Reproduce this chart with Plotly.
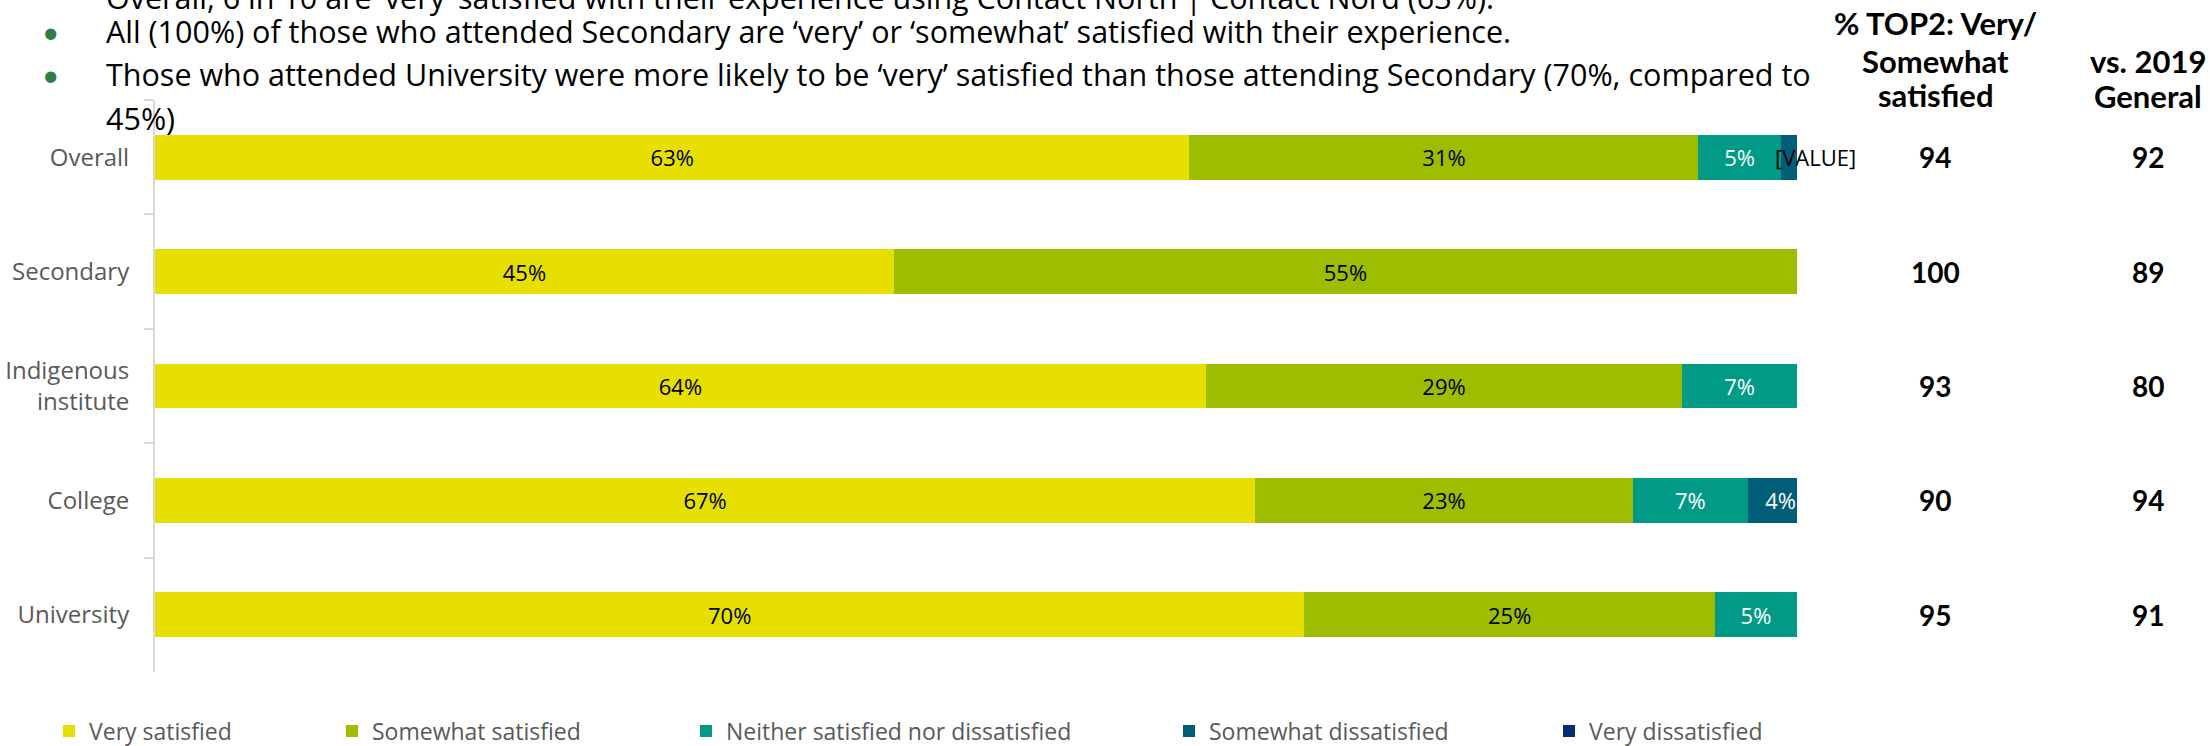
import plotly.graph_objects as go

# --- data -------------------------------------------------------------
categories = ["Overall", "Secondary", "Indigenous<br>institute", "College", "University"]
very_satisfied = [63, 45, 64, 67, 70]
somewhat_satisfied = [31, 55, 29, 23, 25]
neither = [5, 0, 7, 7, 5]
somewhat_dissatisfied = [1, 0, 0, 4, 0]
very_dissatisfied = [0, 0, 0, 0, 0]
top2_pct = [94, 100, 93, 90, 95]
vs_2019_general = [92, 89, 80, 94, 91]
series_names = ["Very satisfied", "Somewhat satisfied",
                "Neither satisfied nor dissatisfied",
                "Somewhat dissatisfied", "Very dissatisfied"]

bullets = [
    "Overall, 6 in 10 are \u2018very\u2019 satisfied with their experience using Contact North | Contact Nord (63%).",
    "All (100%) of those who attended Secondary are \u2018very\u2019 or \u2018somewhat\u2019 satisfied with their experience.",
    "Those who attended University were more likely to be \u2018very\u2019 satisfied than those attending Secondary (70%, compared to",
    "45%)",
]

# --- styling -----------------------------------------------------------
W, H = 2210, 746
L, R, T, B = 155, 413, 100, 74
PW, PH = W - L - R, H - T - B

colors = ["#E6DF00", "#9CBD00", "#009A86", "#005E78", "#002E6E"]
label_colors = ["#000000", "#000000", "#FFFFFF", "#FFFFFF", "#FFFFFF"]
LABEL_FONT = "Open Sans, Segoe UI, sans-serif"
BODY_FONT = "Open Sans, Calibri, sans-serif"
HEAD_FONT = "Lato, Calibri, sans-serif"
GREY = "#595959"


def px_x(px):
    return (px - L) / PW


def px_y(py):
    return (H - B - py) / PH


series = [very_satisfied, somewhat_satisfied, neither,
          somewhat_dissatisfied, very_dissatisfied]

fig = go.Figure()
for i, (name, vals) in enumerate(zip(series_names, series)):
    texts = []
    for cat, v in zip(categories, vals):
        if v > 0 and not (cat == "Overall" and name == "Somewhat dissatisfied"):
            texts.append(f"{v}%")
        else:
            texts.append("")
    fig.add_trace(go.Bar(
        y=categories, x=vals, name=name, orientation="h",
        marker=dict(color=colors[i], line=dict(width=0)),
        text=texts, textposition="inside", insidetextanchor="middle",
        constraintext="none", textangle=0,
        textfont=dict(family=LABEL_FONT, size=22, color=label_colors[i]),
        legend="legend" if i == 0 else f"legend{i + 1}",
        hoverinfo="skip",
    ))

# placeholder label on the small Overall segment
overall_start = very_satisfied[0] + somewhat_satisfied[0] + neither[0]
annotations = [dict(
    x=overall_start, y="Overall", xref="x", yref="y", text="[VALUE]",
    showarrow=False, xanchor="left", yanchor="middle", xshift=-8,
    font=dict(family=LABEL_FONT, size=22, color="#000000"),
)]

# bullet text block
line_y = [-3, 31, 74, 118]
for i, (txt, py) in enumerate(zip(bullets, line_y)):
    annotations.append(dict(
        x=px_x(104), y=px_y(py), xref="paper", yref="paper", text=txt,
        showarrow=False, xanchor="left", yanchor="middle",
        font=dict(family=BODY_FONT, size=30.5, color="#000000"),
    ))
    if i in (1, 2):
        annotations.append(dict(
            x=px_x(50), y=px_y(py), xref="paper", yref="paper", text="\u2022",
            showarrow=False, xanchor="center", yanchor="middle",
            font=dict(family=HEAD_FONT, size=30, color="#2E7D46"),
        ))

# right-hand summary columns
col1_x, col2_x = px_x(1935), px_x(2148)
header_lines = [
    (col1_x, 23, "% TOP2: Very/"),
    (col1_x, 61, "Somewhat"),
    (col1_x, 95, "satisfied"),
    (col2_x, 61, "vs. 2019"),
    (col2_x, 96, "General"),
]
for xx, py, txt in header_lines:
    annotations.append(dict(
        x=xx, y=px_y(py), xref="paper", yref="paper", text=f"<b>{txt}</b>",
        showarrow=False, xanchor="center", yanchor="middle",
        font=dict(family=HEAD_FONT, size=31, color="#000000"),
    ))
for cat, a, b in zip(categories, top2_pct, vs_2019_general):
    for xx, v in ((col1_x, a), (col2_x, b)):
        annotations.append(dict(
            x=xx, y=cat, xref="paper", yref="y", text=f"<b>{v}</b>",
            showarrow=False, xanchor="center", yanchor="middle",
            font=dict(family=HEAD_FONT, size=28, color="#000000"),
        ))

# one legend per series, spaced along the bottom
legend_centres = [69, 352, 706, 1189, 1569]
legends = {}
for i, cx in enumerate(legend_centres):
    key = "legend" if i == 0 else f"legend{i + 1}"
    legends[key] = dict(
        x=(cx - 20) / W, y=1 - 731 / H, xref="container", yref="container",
        xanchor="left", yanchor="middle", orientation="h",
        bgcolor="rgba(0,0,0,0)", borderwidth=0,
        font=dict(family=LABEL_FONT, size=23, color=GREY),
    )

fig.update_layout(
    width=W, height=H, barmode="stack", bargap=0.607,
    margin=dict(l=L, r=R, t=T, b=B, pad=0, autoexpand=False),
    plot_bgcolor="white", paper_bgcolor="white",
    showlegend=True, annotations=annotations,
    xaxis=dict(range=[0, 100], visible=False, fixedrange=True),
    yaxis=dict(
        type="category", categoryorder="array", categoryarray=categories,
        autorange="reversed", automargin=False,
        showline=True, linecolor="#D9D9D9", linewidth=2,
        ticks="outside", tickson="boundaries", ticklen=9, tickwidth=2,
        tickcolor="#D9D9D9", ticklabelstandoff=19, showgrid=False,
        tickfont=dict(family=LABEL_FONT, size=24, color=GREY),
    ),
    **legends,
)

fig.write_html("out.html")
